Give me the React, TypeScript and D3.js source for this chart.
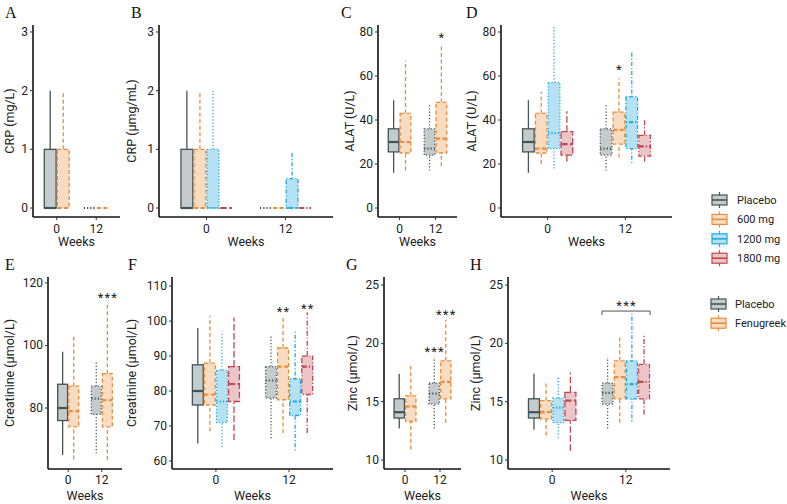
import React from "react";
import * as d3 from "d3";

// ---------- data ----------
const WEEKS = ["0", "12"];
const GROUPS_4 = ["Placebo", "600 mg", "1200 mg", "1800 mg"];
const GROUPS_2 = ["Placebo", "Fenugreek"];

// box stats: [lower whisker, Q1, median, Q3, upper whisker], indexed [week][group]
const A_CRP = [
  [[0, 0, 0, 1, 2], [0, 0, 0, 1, 2]],
  [[0, 0, 0, 0, 0], [0, 0, 0, 0, 0]],
];
const B_CRP = [
  [[0, 0, 0, 1, 2], [0, 0, 0, 1, 2], [0, 0, 0, 1, 2], [0, 0, 0, 0, 0]],
  [[0, 0, 0, 0, 0], [0, 0, 0, 0, 0], [0, 0, 0, 0.5, 0.96], [0, 0, 0, 0, 0]],
];
const C_ALAT = [
  [[16, 25.5, 30, 36, 49], [17, 25, 30, 43, 67]],
  [[17, 24, 27, 36, 47], [19, 25, 31.5, 48, 74]],
];
const D_ALAT = [
  [[16, 25.5, 30, 36, 49], [20, 25, 27, 43, 53], [18, 27, 34, 57, 83], [21, 24, 29, 34.7, 44]],
  [[17, 24, 27, 36, 47], [23, 29, 35.5, 43.6, 59], [20.5, 27, 39, 50.6, 71], [21, 23.6, 28, 33, 40]],
];
const E_CREAT = [
  [[65, 76, 80, 87.6, 98], [63.5, 74, 79, 87, 103]],
  [[65.5, 78, 83, 87, 95], [63.4, 74, 82.5, 91, 113.5]],
];
const F_CREAT = [
  [[65, 76, 80, 87.5, 98], [68.5, 76, 79, 88, 101.5], [64, 71, 77, 86, 97], [66, 77, 82, 87, 101]],
  [[66.5, 78, 83, 87, 96], [68, 77.5, 87, 92.3, 101], [63, 73, 77, 83.5, 97], [68, 79, 87, 90, 102.5]],
];
const G_ZINC = [
  [[12.7, 13.6, 14.1, 15.25, 17.4], [10.9, 13.3, 14.6, 15.5, 18.2]],
  [[12.7, 14.8, 15.7, 16.6, 18.8], [13.2, 15.25, 16.7, 18.5, 22]],
];
const H_ZINC = [
  [[12.6, 13.6, 14.1, 15.25, 17.4], [12.1, 13.5, 14.1, 15.1, 16.7], [11.9, 13.2, 14.5, 15.3, 17.1], [10.8, 13.4, 15.1, 15.8, 17.5]],
  [[12.7, 14.8, 15.75, 16.6, 18.8], [13.2, 15.25, 17.1, 18.5, 20.5], [13.3, 15.25, 16.5, 18.5, 22.6], [13.9, 15.25, 16.7, 18.2, 20.8]],
];

const CRP_TICKS = [0, 1, 2, 3];
const ALAT_TICKS = [0, 20, 40, 60, 80];
const E_TICKS = [80, 100, 120];
const F_TICKS = [60, 70, 80, 90, 100, 110];
const ZINC_TICKS = [10, 15, 20, 25];

// significance marks: [week index, group index, label, value]
const C_SIG = [[1, 1, "*", 78.6]];
const D_SIG = [[1, 1, "*", 64]];
const E_SIG = [[1, 1, "***", 116.2]];
const F_SIG = [[1, 1, "**", 103.4], [1, 3, "**", 104.3]];
const G_SIG = [[1, 0, "***", 19.5], [1, 1, "***", 22.7]];
const H_BRACKET = [[1, "***", 22.77]];

// ---------- styles ----------
const STROKE4 = ["#435459", "#e98d38", "#1fa9dd", "#bf4850"];
const FILL4 = ["#c3cbcc", "#f8dcc2", "#b4e1f3", "#ebc5c9"];
const DASH4 = [
  ["", "4,2.5", "1.2,2", "6.5,2.5"],
  ["1.2,2", "4,2.5", "1.2,2,4,2", "5,2,1.2,2"],
];
const DASH2 = [
  ["", "4,2.5"],
  ["1.2,2", "4,2.5"],
];

const FONT = "Roboto, 'DejaVu Sans', sans-serif";
const SERIF = "'Liberation Serif', 'DejaVu Serif', serif";

const TOP = [25, 217];
const BOT = [277, 469];

const panels = [
  { id: "A", data: A_CRP, n: 2, x0: 33, x1: 120, rows: TOP, dom: [-0.153, 3.119], ticks: CRP_TICKS, title: "CRP (mg/L)", tx: 14, lx: 5, sig: [], br: [] },
  { id: "B", data: B_CRP, n: 4, x0: 159, x1: 333, rows: TOP, dom: [-0.153, 3.119], ticks: CRP_TICKS, title: "CRP (μmg/mL)", tx: 136, lx: 131, sig: [], br: [] },
  { id: "C", data: C_ALAT, n: 2, x0: 378, x1: 457, rows: TOP, dom: [-4.09, 83.18], ticks: ALAT_TICKS, title: "ALAT (U/L)", tx: 354, lx: 341, sig: C_SIG, br: [] },
  { id: "D", data: D_ALAT, n: 4, x0: 501, x1: 672, rows: TOP, dom: [-4.09, 83.18], ticks: ALAT_TICKS, title: "ALAT (U/L)", tx: 476, lx: 466, sig: D_SIG, br: [] },
  { id: "E", data: E_CREAT, n: 2, x0: 48, x1: 122, rows: BOT, dom: [60.5, 121.9], ticks: E_TICKS, title: "Creatinine (μmol/L)", tx: 14, lx: 5, sig: E_SIG, br: [] },
  { id: "F", data: F_CREAT, n: 4, x0: 172, x1: 333, rows: BOT, dom: [57.7, 112.6], ticks: F_TICKS, title: "Creatinine (μmol/L)", tx: 136, lx: 128, sig: F_SIG, br: [] },
  { id: "G", data: G_ZINC, n: 2, x0: 384, x1: 461, rows: BOT, dom: [9.23, 25.69], ticks: ZINC_TICKS, title: "Zinc (μmol/L)", tx: 357, lx: 346, sig: G_SIG, br: [] },
  { id: "H", data: H_ZINC, n: 4, x0: 508, x1: 670, rows: BOT, dom: [9.23, 25.69], ticks: ZINC_TICKS, title: "Zinc (μmol/L)", tx: 480, lx: 470, sig: [], br: H_BRACKET },
];

function Panel({ p }: { p: any }) {
  const [yTop, yBot] = p.rows;
  const y = d3.scaleLinear().domain(p.dom).range([yBot, yTop]);
  const x = d3.scaleLinear().domain([0.4, 2.6]).range([p.x0, p.x1]);
  const unit = x(1) - x(0);
  const groupW = 0.66 * unit;
  const bw = groupW / p.n;
  const groups = p.n === 4 ? GROUPS_4 : GROUPS_2;
  const stroke = p.n === 4 ? STROKE4 : [STROKE4[0], STROKE4[1]];
  const fill = p.n === 4 ? FILL4 : [FILL4[0], FILL4[1]];
  const dash = p.n === 4 ? DASH4 : DASH2;
  const cxOf = (wi: number, gi: number) => x(wi + 1) - groupW / 2 + bw * (gi + 0.5);
  const labelBase = yBot + (p.rows === TOP ? 16 : 15);
  const titleBase = yBot + (p.rows === TOP ? 29 : 31);
  const midY = (yTop + yBot) / 2;
  return (
    <g>
      <text x={p.lx} y={yTop - 7} fontFamily={SERIF} fontSize={16} fill="#111">{p.id}</text>
      {/* boxes */}
      {p.data.map((wk: number[][], wi: number) =>
        wk.map((s: number[], gi: number) => {
          const [lo, q1, md, q3, hi] = s;
          const cx = cxOf(wi, gi);
          const da = dash[wi][gi] || undefined;
          const st = stroke[gi];
          return (
            <g key={`${wi}-${gi}`} data-group={groups[gi]} data-week={WEEKS[wi]}>
              <line x1={cx} x2={cx} y1={y(lo)} y2={y(q1)} stroke={st} strokeWidth={1.3} strokeDasharray={da} />
              <line x1={cx} x2={cx} y1={y(q3)} y2={y(hi)} stroke={st} strokeWidth={1.3} strokeDasharray={da} />
              <rect x={cx - bw / 2 + 0.6} y={y(q3)} width={bw - 1.2} height={Math.max(0, y(q1) - y(q3))} fill={fill[gi]} stroke={st} strokeWidth={1.3} strokeDasharray={da} />
              <line x1={cx - bw / 2 + 0.6} x2={cx + bw / 2 - 0.6} y1={y(md)} y2={y(md)} stroke={st} strokeWidth={2.2} strokeDasharray={da} />
            </g>
          );
        })
      )}
      {/* significance */}
      {p.sig.map((sg: any[], i: number) => (
        <text key={i} x={cxOf(sg[0], sg[1]) + 0.5} y={y(sg[3]) + 7} textAnchor="middle" fontFamily={FONT} fontSize={13} letterSpacing={1.2} fill="#222">{sg[2]}</text>
      ))}
      {p.br.map((b: any[], i: number) => {
        const xa = cxOf(b[0], 0) - bw / 2 + 0.5;
        const xb = cxOf(b[0], p.n - 1) + bw / 2;
        const yy = y(b[2]);
        return (
          <g key={"b" + i}>
            <path d={`M${xa},${yy + 4}V${yy}H${xb}V${yy + 4}`} fill="none" stroke="#555" strokeWidth={1} />
            <text x={(xa + xb) / 2 + 0.5} y={yy - 1.5} textAnchor="middle" fontFamily={FONT} fontSize={13} letterSpacing={1.2} fill="#222">{b[1]}</text>
          </g>
        );
      })}
      {/* axes */}
      <line x1={p.x0} x2={p.x0} y1={yTop} y2={yBot} stroke="#111" strokeWidth={1.6} />
      <line x1={p.x0} x2={p.x1} y1={yBot} y2={yBot} stroke="#111" strokeWidth={1.6} />
      {p.ticks.map((t: number) => (
        <g key={t}>
          <line x1={p.x0 - 3} x2={p.x0} y1={y(t)} y2={y(t)} stroke="#333" strokeWidth={1} />
          <text x={p.x0 - 5} y={y(t) + 4} textAnchor="end" fontFamily={FONT} fontSize={12} fill="#222">{t}</text>
        </g>
      ))}
      {WEEKS.map((w, i) => (
        <g key={w}>
          <line x1={x(i + 1)} x2={x(i + 1)} y1={yBot} y2={yBot + 3} stroke="#333" strokeWidth={1} />
          <text x={x(i + 1)} y={labelBase} textAnchor="middle" fontFamily={FONT} fontSize={12} fill="#222">{w}</text>
        </g>
      ))}
      <text x={(p.x0 + p.x1) / 2} y={titleBase} textAnchor="middle" fontFamily={FONT} fontSize={12.5} fill="#222">Weeks</text>
      <text transform={`translate(${p.tx},${midY}) rotate(-90)`} textAnchor="middle" fontFamily={FONT} fontSize={12.5} fill="#222">{p.title}</text>
    </g>
  );
}

function LegendKey({ x, y, st, fl }: { x: number; y: number; st: string; fl: string }) {
  return (
    <g>
      <line x1={x + 7.5} x2={x + 7.5} y1={y - 8} y2={y + 8} stroke={st} strokeWidth={1.2} />
      <rect x={x} y={y - 5} width={15} height={10} fill={fl} stroke={st} strokeWidth={1.2} />
      <line x1={x} x2={x + 15} y1={y} y2={y} stroke={st} strokeWidth={1.6} />
    </g>
  );
}

export default function App() {
  return (
    <svg width={787} height={504} style={{ position: "absolute", left: 0, top: 0, background: "#fff" }}>
      <rect width={787} height={504} fill="#fff" />
      {panels.map((p) => (
        <Panel key={p.id} p={p} />
      ))}
      {GROUPS_4.map((g, i) => (
        <g key={g}>
          <LegendKey x={712} y={200 + i * 19.4} st={STROKE4[i]} fl={FILL4[i]} />
          <text x={737} y={200 + i * 19.4 + 4} fontFamily={FONT} fontSize={11} fill="#222">{g}</text>
        </g>
      ))}
      {GROUPS_2.map((g, i) => (
        <g key={g}>
          <LegendKey x={711} y={304 + i * 19.2} st={STROKE4[i]} fl={FILL4[i]} />
          <text x={735} y={304 + i * 19.2 + 4} fontFamily={FONT} fontSize={11} fill="#222">{g}</text>
        </g>
      ))}
    </svg>
  );
}
